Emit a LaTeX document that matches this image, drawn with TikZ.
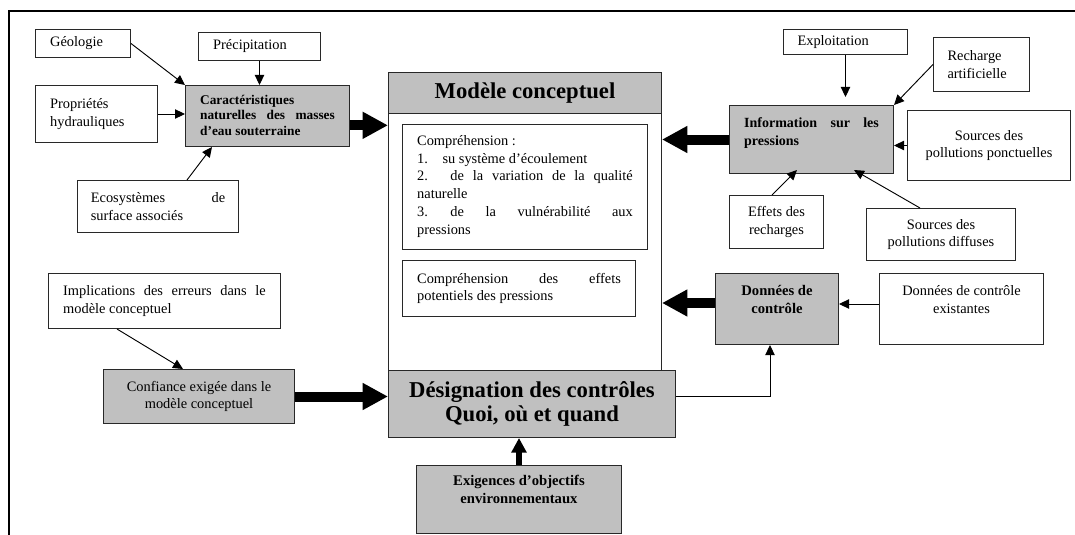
\documentclass[tikz,border=0pt]{standalone}
\usepackage{fontspec}
\setmainfont{Liberation Serif}
\usetikzlibrary{arrows.meta,calc}
\definecolor{boxgray}{RGB}{192,192,192}
\definecolor{edge}{RGB}{40,40,40}
% #1 width (px), #2 height (px), #3 vertical position, #4 side padding (pt), #5 text
\newcommand\boxcell[5]{%
  \hspace*{#4pt}%
  \parbox[c][\dimexpr #2pt*3/4\relax][#3]{\dimexpr #1pt*3/4-#4pt*2\relax}{#5}%
  \hspace*{#4pt}}
\tikzset{
  panel/.style={draw=edge, line width=0.75pt, fill=white, inner sep=0pt,
    anchor=north west, font=\fontsize{10.8}{13.4}\selectfont},
  shaded/.style={panel, fill=boxgray},
  arr/.style={draw=black, line width=0.7pt, -{Triangle[length=7.5pt,width=7pt]}},
  bigarrow/.style={line width=7.5pt, -{Triangle[length=19pt,width=19pt]}},
  midarrow/.style={line width=4.5pt, -{Triangle[length=11pt,width=11pt]}},
}
\begin{document}
\begin{tikzpicture}[x=0.75pt,y=-0.75pt]
\useasboundingbox (0,0) rectangle (1075,535);
\draw[line width=2pt] (9,535) -- (9,11) -- (1075,11);

% left column: natural characteristics
\node[panel] (geo) at (35,29) {\boxcell{95}{28}{c}{11}{Géologie}};
\node[panel] (prec) at (198,32) {\boxcell{122}{28}{c}{11}{Précipitation}};
\node[panel] (prop) at (35,85) {\boxcell{122}{57}{c}{11}{Propriétés\\hydrauliques}};
\node[shaded] (car) at (185,85) {\boxcell{164}{61}{t}{11}{\fontsize{10}{11.6}\selectfont\bfseries\vspace*{7pt}Caractéristiques\\\makebox[\linewidth][s]{naturelles des masses}\\d’eau souterraine}};
\node[panel] (eco) at (77,180) {\boxcell{161}{52}{c}{10}{\makebox[\linewidth][s]{Ecosystèmes de}\\surface associés}};

% central conceptual model
\node[panel, minimum width=204.75pt, minimum height=223.5pt] (modele) at (388,72) {};
\node[shaded] (mhead) at (388,72) {\boxcell{273}{41}{c}{0}{\centering\fontsize{17}{18}\selectfont\bfseries Modèle conceptuel}};
\node[panel] (in1) at (402,124) {\boxcell{245}{125}{t}{11}{\vspace*{8pt}Compréhension :\\
\makebox[19pt][l]{1.}su système d’écoulement\\
\makebox[25pt][l]{2.}\makebox[\dimexpr\linewidth-25pt][s]{de la variation de la qualité}\\
naturelle\\
\makebox[25pt][l]{3.}\makebox[\dimexpr\linewidth-25pt][s]{de la vulnérabilité aux}\\
pressions}};
\node[panel] (in2) at (402,260) {\boxcell{233}{56}{c}{11}{\makebox[\linewidth][s]{Compréhension des effets}\\potentiels des pressions}};

% right column: pressures
\node[shaded] (info) at (729,105) {\boxcell{164}{68}{t}{11}{\fontsize{10.5}{13.5}\selectfont\bfseries\vspace*{9pt}\makebox[\linewidth][s]{Information sur les}\\pressions}};
\node[panel] (explo) at (783,29) {\boxcell{124}{25}{c}{10.5}{Exploitation}};
\node[panel] (rech) at (933,37) {\boxcell{96}{54}{c}{10.5}{Recharge\\artificielle}};
\node[panel] (ponct) at (907,110) {\boxcell{163}{70}{c}{5}{\centering Sources des\\pollutions ponctuelles}};
\node[panel] (effets) at (729,195) {\boxcell{94}{53}{c}{4}{\centering Effets des\\recharges}};
\node[panel] (diff) at (866,208) {\boxcell{149}{52}{c}{4}{\centering Sources des\\pollutions diffuses}};

% monitoring data
\node[shaded] (donnees) at (715,273) {\boxcell{123}{71}{t}{4}{\centering\fontsize{11}{13.5}\selectfont\bfseries\vspace*{9pt}Données de\\contrôle}};
\node[panel] (exist) at (879,273) {\boxcell{164}{71}{t}{4}{\centering\vspace*{9pt}Données de contrôle\\existantes}};

% bottom row
\node[shaded] (desig) at (388,370) {\boxcell{287}{67}{c}{2}{\centering\fontsize{17}{18}\selectfont\bfseries Désignation des contrôles\\Quoi, où et quand}};
\node[shaded] (exig) at (416,465) {\boxcell{205}{68}{t}{4}{\centering\fontsize{11}{13.5}\selectfont\bfseries\vspace*{7pt}Exigences d’objectifs\\environnementaux}};
\node[panel] (impl) at (48,273) {\boxcell{232}{55}{c}{11}{\makebox[\linewidth][s]{Implications des erreurs dans le}\\modèle conceptuel}};
\node[shaded] (conf) at (103,369) {\boxcell{191}{54}{c}{4}{\centering Confiance exigée dans le\\modèle conceptuel}};

% connectors
\draw[arr] (geo.east) -- (car.north west);
\draw[arr] (prec.south) -- (prec.south |- car.north);
\draw[arr] (prop.east) -- (prop.east -| car.west);
\draw[arr] ($(eco.north west)+(110,0)$) -- ($(car.south west)+(27,0)$);
\draw[bigarrow] ([yshift=-7pt]car.east) -- ([yshift=-7pt]car.east -| modele.west);

\draw[arr, shorten >=6pt] (explo.south) -- (explo.south |- info.north);
\draw[arr] (rech.west) -- (info.north east);
\draw[arr] (ponct.west) -- (ponct.west -| info.east);
\draw[arr] ($(effets.north west)+(43,0)$) -- ($(info.south west)+(68,-4)$);
\draw[arr] ($(diff.north west)+(54,0)$) -- ($(info.south west)+(125,-4)$);
\draw[bigarrow] (info.west) -- (info.west -| modele.east);

\draw[arr] ([yshift=3.75pt]exist.west) -- ([yshift=3.75pt]donnees.east);
\draw[bigarrow] ([yshift=4.5pt]donnees.west) -- ([yshift=4.5pt]donnees.west -| modele.east);
\draw[arr] ([yshift=5.5pt]desig.east) -| ($(donnees.south west)+(55,0)$);

\draw[arr] ($(impl.south west)+(69,0)$) -- ($(conf.north west)+(80,0)$);
\draw[bigarrow] (conf.east) -- (conf.east -| desig.west);
\draw[midarrow] (exig.north) -- (exig.north |- desig.south);
\end{tikzpicture}
\end{document}
